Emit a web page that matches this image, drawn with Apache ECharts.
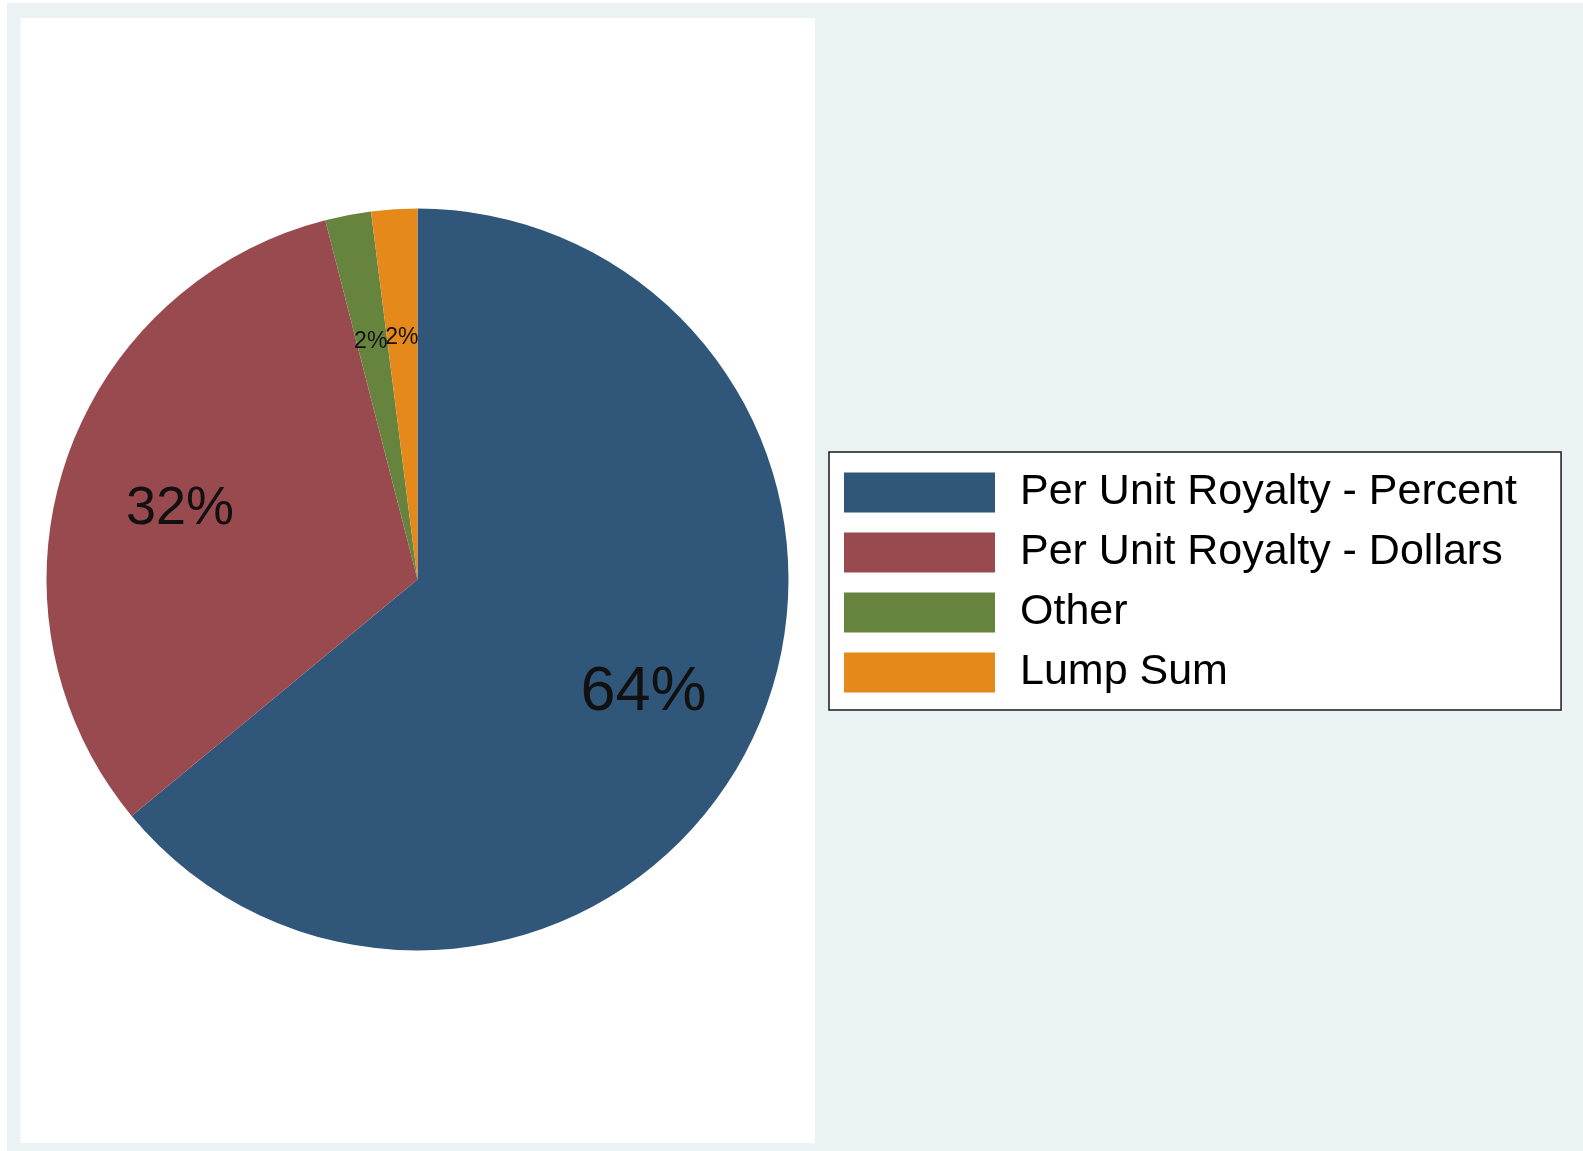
<!DOCTYPE html>
<html>
<head>
<meta charset="utf-8">
<script src="https://cdn.jsdelivr.net/npm/echarts@6/dist/echarts.min.js"></script>
<style>
  html, body { margin: 0; padding: 0; background: #ffffff; }
  #chart { position: absolute; left: 0; top: 0; width: 1583px; height: 1151px; }
</style>
</head>
<body>
<div id="chart"></div>
<script>
// Royalty structure shares (percent of agreements)
const categories = [
  'Per Unit Royalty - Percent',
  'Per Unit Royalty - Dollars',
  'Other',
  'Lump Sum'
];
const shares = [64, 32, 2, 2];

// Slice colours and label sizes
const sliceColors = ['#30577a', '#994a4f', '#67843f', '#e58a1a'];
const labelSizes = [63, 54, 23, 23];

const cx = 417.5, cy = 579.5, R = 371;

const chart = echarts.init(document.getElementById('chart'), null, { renderer: 'canvas' });

const sliceData = categories.map((name, i) => ({
  name: name,
  value: shares[i],
  itemStyle: { color: sliceColors[i] }
}));

const labelData = categories.map((name, i) => ({
  name: name,
  value: shares[i],
  label: { fontSize: labelSizes[i] }
}));

chart.setOption({
  animation: false,
  backgroundColor: '#eaf2f3',
  graphic: [
    // thin white edge along the top and left
    { type: 'rect', shape: { x: 0, y: 0, width: 1583, height: 3 }, style: { fill: '#ffffff' }, silent: true },
    { type: 'rect', shape: { x: 0, y: 0, width: 7, height: 1151 }, style: { fill: '#ffffff' }, silent: true },
    // white plot region
    { type: 'rect', z: -1, shape: { x: 20.5, y: 18, width: 794.5, height: 1125 }, style: { fill: '#ffffff' }, silent: true }
  ],
  legend: {
    orient: 'vertical',
    left: 829,
    top: 452,
    icon: 'rect',
    itemWidth: 151,
    itemHeight: 40,
    itemGap: 17,
    padding: [19, 44, 16, 15],
    backgroundColor: '#ffffff',
    borderColor: '#1a1a1a',
    borderWidth: 1.5,
    borderRadius: 0,
    selectedMode: false,
    data: categories,
    textStyle: {
      fontFamily: '"Liberation Sans", Arial, sans-serif',
      fontSize: 43,
      lineHeight: 40,
      color: '#000000',
      padding: [0, 0, 0, 20]
    }
  },
  series: [
    {
      name: 'slices',
      type: 'pie',
      center: [cx, cy],
      radius: [0, R],
      startAngle: 90,
      clockwise: true,
      silent: true,
      emphasis: { disabled: true },
      itemStyle: { borderWidth: 0 },
      label: { show: false },
      labelLine: { show: false },
      data: sliceData
    },
    {
      // transparent ring that places the percentage labels at ~2/3 of the radius,
      // its centre dropped a little so the digits sit optically centred
      name: 'labels',
      type: 'pie',
      center: [cx, cy + 7],
      radius: [R * 0.33, R],
      startAngle: 90,
      clockwise: true,
      silent: true,
      avoidLabelOverlap: false,
      labelLayout: { hideOverlap: false },
      emphasis: { disabled: true },
      itemStyle: { color: 'rgba(0,0,0,0)', borderWidth: 0 },
      label: {
        show: true,
        position: 'inside',
        fontFamily: '"Liberation Sans", Arial, sans-serif',
        color: '#111111',
        formatter: p => p.value + '%'
      },
      labelLine: { show: false },
      data: labelData
    }
  ]
});
</script>
</body>
</html>
